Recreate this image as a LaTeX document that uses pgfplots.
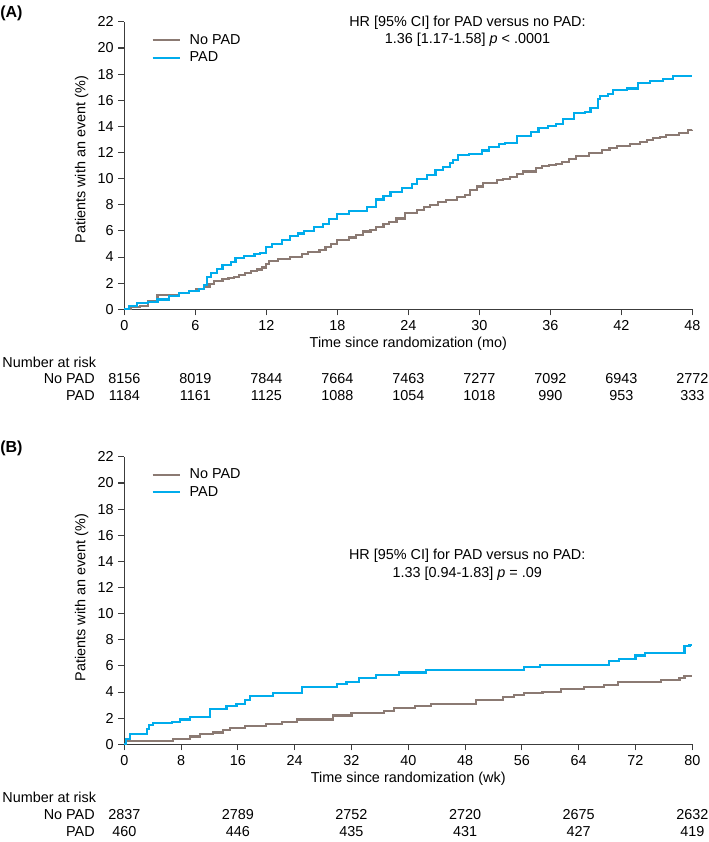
\documentclass[border=0pt]{standalone}
\usepackage{fontspec}
\setmainfont{Liberation Sans}
\usepackage{pgfplots}
\pgfplotsset{compat=1.18}
\definecolor{padblue}{RGB}{0,172,236}
\definecolor{nopadbrown}{RGB}{139,122,115}
\definecolor{axgray}{RGB}{60,60,60}
\newcommand{\tf}{\fontsize{10.8}{13}\selectfont}
\pgfplotsset{kmstyle/.style={
  scale only axis, width=426pt, height=215.6pt,
  axis lines*=left, axis line style={axgray, line width=0.8pt, -},
  tick align=outside, major tick length=4.5pt,
  tick style={axgray, line width=0.8pt},
  ymin=0, ymax=22, ytick={0,2,...,22},
  font=\tf, ticklabel style={font=\tf},
  /pgf/number format/assume math mode=true,
  ylabel={Patients with an event (\%)},
  clip=false,
  legend cell align=left,
  legend style={draw=none, fill=none, anchor=north west, inner sep=0pt,
    row sep=0pt, column sep=5pt, font=\tf,
    nodes={text height=8pt, text depth=2pt, inner sep=1.5pt}},
  legend image code/.code={\draw[##1,line width=1.6pt] (0pt,0pt) -- (20.5pt,0pt);},
  xlabel style={at={(axis description cs:0.5,-0.121)}, anchor=center},
}}
\begin{document}
\begin{tikzpicture}
\path[use as bounding box] (0pt,0pt) rectangle (531.75pt,-631.5pt);
\node[anchor=west, inner sep=0pt, font=\fontsize{12}{14}\selectfont\bfseries] at (0pt,-10pt) {(A)};
\node[anchor=west, inner sep=0pt, font=\fontsize{12}{14}\selectfont\bfseries] at (0pt,-336pt) {(B)};
% ---------- Panel A ----------
\begin{axis}[kmstyle, at={(93.225pt,-231.975pt)}, anchor=south west,
  xmin=0, xmax=48, xtick={0,6,...,48},
  xlabel={Time since randomization (mo)},
  ylabel style={at={(axis description cs:-0.075,0.52)}, anchor=center},
  legend style={at={(axis description cs:0.0475,0.9666)}}]
\addplot[const plot, nopadbrown, line width=1.6pt] coordinates {
(0,0) (0.6,0.2) (1.3,0.25) (2.0,0.6) (2.8,1.07) (3.75,1.1) (4.6,1.25) (5.5,1.4) (6.05,1.55) (6.76,1.7) (7.2,1.95) (7.6,2.15) (8.3,2.3) (8.8,2.4) (9.3,2.5) (9.7,2.65) (10.2,2.75) (10.7,2.9) (11.2,3.05) (11.6,3.2) (12.0,3.5) (12.2,3.7) (13.0,3.85) (14.0,4.0) (15.0,4.2) (15.5,4.4) (16.5,4.55) (17.0,4.8) (17.5,5.0) (18.0,5.3) (19.0,5.5) (19.6,5.7) (20.2,5.95) (20.8,6.1) (21.3,6.3) (21.9,6.5) (22.4,6.7) (23.0,6.95) (23.7,7.35) (24.7,7.6) (25.3,7.8) (25.8,8.0) (26.5,8.2) (27.2,8.35) (28.1,8.6) (28.8,8.75) (29.2,9.1) (29.8,9.4) (30.3,9.65) (31.5,9.9) (32.0,10.0) (32.6,10.15) (33.2,10.35) (33.7,10.55) (34.8,10.8) (35.3,10.95) (35.9,11.05) (36.5,11.15) (37.0,11.3) (37.6,11.5) (38.2,11.7) (39.3,11.95) (40.4,12.2) (41.0,12.35) (41.6,12.5) (42.7,12.65) (43.6,12.8) (44.2,12.95) (44.7,13.1) (45.3,13.2) (45.8,13.35) (46.9,13.5) (47.6,13.7) (48,13.75)
};
\addlegendentry{No PAD}
\addplot[const plot, padblue, line width=1.6pt] coordinates {
(0,0) (0.4,0.25) (1.1,0.45) (2.0,0.58) (2.8,0.75) (3.75,1.0) (4.6,1.25) (5.5,1.38) (6.3,1.58) (6.76,1.83) (7.0,2.45) (7.3,2.8) (7.8,3.1) (8.3,3.4) (9.0,3.6) (9.4,3.9) (10.1,4.1) (11.0,4.2) (11.5,4.3) (12.0,4.8) (12.5,5.0) (13.3,5.3) (14.0,5.6) (14.7,5.8) (15.2,6.0) (16.0,6.3) (16.8,6.5) (17.3,6.9) (18.0,7.3) (19.0,7.55) (20.5,7.85) (21.3,8.4) (21.9,8.7) (22.5,8.95) (23.5,9.3) (24.3,9.6) (24.7,9.95) (25.6,10.3) (26.3,10.65) (26.9,10.9) (27.5,11.2) (27.8,11.4) (28.2,11.8) (29.1,11.9) (30.2,12.15) (30.8,12.4) (31.7,12.65) (32.2,12.75) (33.2,13.25) (34.4,13.6) (35.0,13.85) (35.8,14.05) (36.5,14.2) (37.1,14.55) (38.0,15.0) (38.9,15.1) (39.4,15.4) (40.0,16.1) (40.2,16.35) (40.9,16.5) (41.3,16.8) (42.5,16.9) (43.4,17.3) (44.4,17.5) (45.5,17.6) (46.4,17.85) (48,17.85)
};
\addlegendentry{PAD}
\node[align=center, inner sep=0pt, font=\fontsize{10.8}{13}\selectfont] at (axis cs:29,21.3)
  {HR [95\% CI] for PAD versus no PAD:\\1.36 [1.17-1.58] \textit{p} < .0001};
\node[anchor=west, inner sep=0pt] at (axis description cs:-0.215,-0.183) {Number at risk};
\node[anchor=east, inner sep=0pt] at (axis description cs:-0.0516,-0.242) {No PAD};
\node[anchor=east, inner sep=0pt] at (axis description cs:-0.0516,-0.301) {PAD};
\node at (axis cs:0,-5.32) {8156};
\node at (axis cs:6,-5.32) {8019};
\node at (axis cs:12,-5.32) {7844};
\node at (axis cs:18,-5.32) {7664};
\node at (axis cs:24,-5.32) {7463};
\node at (axis cs:30,-5.32) {7277};
\node at (axis cs:36,-5.32) {7092};
\node at (axis cs:42,-5.32) {6943};
\node at (axis cs:48,-5.32) {2772};
\node at (axis cs:0,-6.62) {1184};
\node at (axis cs:6,-6.62) {1161};
\node at (axis cs:12,-6.62) {1125};
\node at (axis cs:18,-6.62) {1088};
\node at (axis cs:24,-6.62) {1054};
\node at (axis cs:30,-6.62) {1018};
\node at (axis cs:36,-6.62) {990};
\node at (axis cs:42,-6.62) {953};
\node at (axis cs:48,-6.62) {333};
\end{axis}
% ---------- Panel B ----------
\begin{axis}[kmstyle, at={(93.225pt,-558.225pt)}, anchor=south west,
  xmin=0, xmax=80, xtick={0,8,...,80},
  xlabel={Time since randomization (wk)},
  ylabel style={at={(axis description cs:-0.075,0.51)}, anchor=center},
  legend style={at={(axis description cs:0.0475,0.9686)}}]
\addplot[const plot, nopadbrown, line width=1.6pt] coordinates {
(0,0) (0.3,0.23) (6.9,0.4) (9.2,0.6) (10.7,0.8) (12.5,0.9) (13.9,1.1) (14.9,1.25) (17,1.4) (20,1.55) (22.2,1.7) (24.3,1.9) (29.4,2.2) (32,2.4) (36.6,2.55) (38,2.75) (41,2.9) (43.2,3.1) (49.5,3.4) (53.3,3.65) (54.9,3.75) (56.3,3.9) (58.9,4.0) (61.5,4.2) (64.8,4.4) (67.6,4.55) (69.5,4.75) (75.6,4.9) (78.2,5.1) (78.9,5.2) (80,5.2)
};
\addlegendentry{No PAD}
\addplot[const plot, padblue, line width=1.6pt] coordinates {
(0,0) (0.3,0.4) (0.8,0.77) (3.2,1.2) (3.5,1.5) (4.1,1.6) (6.7,1.7) (7.8,1.9) (9.2,2.1) (12.1,2.7) (14.4,2.9) (15.8,3.1) (17,3.4) (17.7,3.7) (21,3.9) (25,4.4) (29.9,4.6) (31.3,4.8) (33,5.05) (35.4,5.3) (38.7,5.5) (42.5,5.7) (56.3,5.9) (58.5,6.1) (68.3,6.35) (69.7,6.55) (72,6.8) (73.3,7.0) (78.9,7.5) (79.6,7.6) (80,7.6)
};
\addlegendentry{PAD}
\node[align=center, inner sep=0pt, font=\fontsize{10.8}{13}\selectfont] at (axis cs:48.3,13.74)
  {HR [95\% CI] for PAD versus no PAD:\\1.33 [0.94-1.83] \textit{p} = .09};
\node[anchor=west, inner sep=0pt] at (axis description cs:-0.215,-0.184) {Number at risk};
\node[anchor=east, inner sep=0pt] at (axis description cs:-0.0516,-0.246) {No PAD};
\node[anchor=east, inner sep=0pt] at (axis description cs:-0.0516,-0.304) {PAD};
\node at (axis cs:0,-5.41) {2837};
\node at (axis cs:16,-5.41) {2789};
\node at (axis cs:32,-5.41) {2752};
\node at (axis cs:48,-5.41) {2720};
\node at (axis cs:64,-5.41) {2675};
\node at (axis cs:80,-5.41) {2632};
\node at (axis cs:0,-6.69) {460};
\node at (axis cs:16,-6.69) {446};
\node at (axis cs:32,-6.69) {435};
\node at (axis cs:48,-6.69) {431};
\node at (axis cs:64,-6.69) {427};
\node at (axis cs:80,-6.69) {419};
\end{axis}
\end{tikzpicture}
\end{document}
